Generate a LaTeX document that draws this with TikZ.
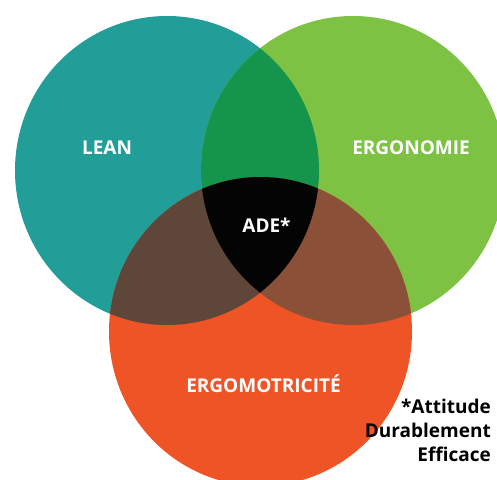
\documentclass[tikz,border=0pt]{standalone}
\usepackage{fontspec}
\setmainfont{Open Sans}
\definecolor{cteal}{HTML}{229E99}
\definecolor{cgreen}{HTML}{7DC242}
\definecolor{corange}{HTML}{EF5427}
\definecolor{cdkgreen}{HTML}{14954B}
\definecolor{cbrownl}{HTML}{5E4638}
\definecolor{cbrownr}{HTML}{8A5038}
\definecolor{cblack}{HTML}{040404}
\tikzset{
  lbl/.style={text=white, font=\fontsize{19}{21}\selectfont\bfseries, inner sep=0pt, anchor=base},
  footlbl/.style={text=black, font=\fontsize{19}{22}\selectfont\bfseries, inner sep=0pt, anchor=base east}
}
\begin{document}
\begin{tikzpicture}[x=1pt,y=-1pt]
\useasboundingbox (0,0) rectangle (497,479);
\clip (0,0) rectangle (497,479);
% full circles
\fill[cteal] (167,170.5) ellipse [x radius=152pt, y radius=154.5pt];
\fill[cgreen] (353,170.5) ellipse [x radius=152pt, y radius=154.5pt];
\fill[corange] (260.5,331.5) ellipse [x radius=151.5pt, y radius=154.5pt];
% teal & green
\begin{scope}
  \clip (167,170.5) ellipse [x radius=152pt, y radius=154.5pt];
  \fill[cdkgreen] (353,170.5) ellipse [x radius=152pt, y radius=154.5pt];
\end{scope}
% teal & orange
\begin{scope}
  \clip (167,170.5) ellipse [x radius=152pt, y radius=154.5pt];
  \fill[cbrownl] (260.5,331.5) ellipse [x radius=151.5pt, y radius=154.5pt];
\end{scope}
% green & orange
\begin{scope}
  \clip (353,170.5) ellipse [x radius=152pt, y radius=154.5pt];
  \fill[cbrownr] (260.5,331.5) ellipse [x radius=151.5pt, y radius=154.5pt];
\end{scope}
% all three
\begin{scope}
  \clip (167,170.5) ellipse [x radius=152pt, y radius=154.5pt];
  \clip (353,170.5) ellipse [x radius=152pt, y radius=154.5pt];
  \fill[cblack] (260.5,331.5) ellipse [x radius=151.5pt, y radius=154.5pt];
\end{scope}
% labels
\node[lbl] (lean) at (107,154) {LEAN};
\node[lbl] (ergo) at (411,154) {ERGONOMIE};
\node[lbl] (ade) at (266.5,232) {ADE*};
\node[lbl] (motr) at (263.5,392) {ERGOMOTRICITÉ};
\node[footlbl] (foot1) at (491,413) {*Attitude};
\node[footlbl] (foot2) at (491,437) {Durablement};
\node[footlbl] (foot3) at (491,461) {Efficace};
\end{tikzpicture}
\end{document}
